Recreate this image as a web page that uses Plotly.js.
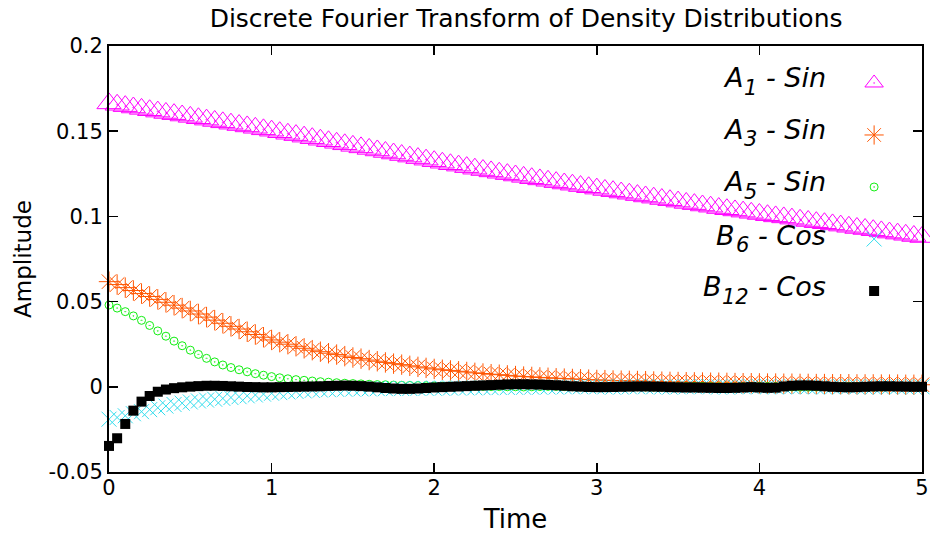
<!DOCTYPE html>
<html>
<head>
<meta charset="utf-8">
<script src="https://cdn.plot.ly/plotly-3.0.1.min.js"></script>
<style>html,body{margin:0;padding:0;background:#fff}#chart{width:930px;height:536px}</style>
</head>
<body>
<div id="chart"></div>
<script>
const time = [
0.00,0.05,0.10,0.15,0.20,0.25,0.30,0.35,0.40,0.45,
0.50,0.55,0.60,0.65,0.70,0.75,0.80,0.85,0.90,0.95,
1.00,1.05,1.10,1.15,1.20,1.25,1.30,1.35,1.40,1.45,
1.50,1.55,1.60,1.65,1.70,1.75,1.80,1.85,1.90,1.95,
2.00,2.05,2.10,2.15,2.20,2.25,2.30,2.35,2.40,2.45,
2.50,2.55,2.60,2.65,2.70,2.75,2.80,2.85,2.90,2.95,
3.00,3.05,3.10,3.15,3.20,3.25,3.30,3.35,3.40,3.45,
3.50,3.55,3.60,3.65,3.70,3.75,3.80,3.85,3.90,3.95,
4.00,4.05,4.10,4.15,4.20,4.25,4.30,4.35,4.40,4.45,
4.50,4.55,4.60,4.65,4.70,4.75,4.80,4.85,4.90,4.95,
5.00];

const a1Sin = [
0.1663,0.1655,0.1647,0.1639,0.1631,0.1623,0.1615,0.1607,0.1600,0.1592,
0.1584,0.1576,0.1568,0.1560,0.1552,0.1544,0.1536,0.1528,0.1520,0.1511,
0.1503,0.1494,0.1485,0.1477,0.1468,0.1459,0.1450,0.1441,0.1432,0.1423,
0.1414,0.1405,0.1396,0.1387,0.1378,0.1369,0.1360,0.1351,0.1342,0.1333,
0.1324,0.1315,0.1306,0.1298,0.1289,0.1280,0.1272,0.1264,0.1256,0.1248,
0.1240,0.1232,0.1224,0.1217,0.1209,0.1201,0.1193,0.1186,0.1178,0.1171,
0.1163,0.1155,0.1148,0.1140,0.1133,0.1125,0.1117,0.1110,0.1102,0.1095,
0.1087,0.1079,0.1072,0.1064,0.1057,0.1049,0.1042,0.1035,0.1028,0.1021,
0.1014,0.1007,0.1000,0.0994,0.0987,0.0980,0.0973,0.0966,0.0960,0.0953,
0.0946,0.0939,0.0932,0.0926,0.0919,0.0912,0.0905,0.0899,0.0892,0.0885,
0.0879];

const a3Sin = [
0.0617,0.0600,0.0582,0.0565,0.0547,0.0530,0.0513,0.0496,0.0479,0.0462,
0.0445,0.0427,0.0409,0.0391,0.0373,0.0355,0.0339,0.0323,0.0307,0.0291,
0.0275,0.0262,0.0250,0.0238,0.0226,0.0215,0.0206,0.0197,0.0189,0.0180,
0.0172,0.0165,0.0157,0.0150,0.0143,0.0136,0.0130,0.0123,0.0117,0.0111,
0.0105,0.0100,0.0096,0.0091,0.0087,0.0082,0.0078,0.0074,0.0071,0.0067,
0.0063,0.0060,0.0058,0.0055,0.0053,0.0050,0.0048,0.0046,0.0044,0.0042,
0.0040,0.0039,0.0037,0.0036,0.0035,0.0034,0.0033,0.0031,0.0030,0.0029,
0.0028,0.0027,0.0026,0.0025,0.0024,0.0024,0.0023,0.0022,0.0021,0.0021,
0.0020,0.0019,0.0019,0.0018,0.0018,0.0017,0.0017,0.0016,0.0016,0.0015,
0.0015,0.0015,0.0014,0.0014,0.0014,0.0013,0.0013,0.0013,0.0012,0.0012,
0.0012];

const a5Sin = [
0.0480,0.0462,0.0441,0.0416,0.0390,0.0360,0.0328,0.0297,0.0268,0.0241,
0.0215,0.0190,0.0167,0.0146,0.0128,0.0113,0.0100,0.0088,0.0077,0.0068,
0.0060,0.0053,0.0047,0.0042,0.0038,0.0034,0.0030,0.0027,0.0024,0.0021,
0.0019,0.0017,0.0015,0.0013,0.0012,0.0010,0.0009,0.0008,0.0007,0.0006,
0.0005,0.0004,0.0004,0.0003,0.0003,0.0002,0.0002,0.0001,0.0001,0.0000,
0.0000,-0.0001,0.0000,0.0001,0.0002,0.0002,0.0001,0.0000,-0.0001,-0.0002,
-0.0002,-0.0001,0.0000,0.0001,0.0001,0.0000,-0.0001,-0.0002,-0.0002,-0.0001,
0.0000,0.0001,0.0002,0.0002,0.0001,0.0000,-0.0001,-0.0001,0.0000,0.0001,
0.0002,0.0002,0.0001,0.0000,-0.0001,-0.0002,-0.0002,-0.0001,0.0000,0.0001,
0.0001,0.0002,0.0001,0.0000,-0.0001,-0.0001,0.0000,0.0001,0.0001,0.0000,
0.0000];

const b6Cos = [
-0.0190,-0.0180,-0.0170,-0.0158,-0.0146,-0.0134,-0.0123,-0.0113,-0.0104,-0.0096,
-0.0089,-0.0083,-0.0078,-0.0073,-0.0068,-0.0063,-0.0058,-0.0053,-0.0048,-0.0043,
-0.0038,-0.0034,-0.0030,-0.0027,-0.0024,-0.0021,-0.0019,-0.0017,-0.0015,-0.0014,
-0.0013,-0.0012,-0.0012,-0.0011,-0.0011,-0.0010,-0.0010,-0.0010,-0.0009,-0.0009,
-0.0008,-0.0008,-0.0007,-0.0007,-0.0006,-0.0006,-0.0005,-0.0005,-0.0004,-0.0004,
-0.0003,-0.0003,-0.0002,-0.0002,-0.0001,-0.0001,0.0000,0.0000,0.0001,0.0001,
0.0000,0.0000,-0.0001,-0.0001,0.0000,0.0001,0.0001,0.0000,-0.0001,-0.0001,
0.0000,0.0000,0.0001,0.0001,0.0000,-0.0001,-0.0001,0.0000,0.0000,0.0001,
0.0001,0.0000,-0.0001,0.0000,0.0001,0.0001,0.0000,0.0000,-0.0001,0.0000,
0.0001,0.0001,0.0000,-0.0001,0.0000,0.0000,0.0001,0.0000,0.0000,0.0000,
0.0000];

const b12Cos = [
-0.0347,-0.0302,-0.0218,-0.0140,-0.0087,-0.0054,-0.0029,-0.0016,-0.0008,-0.0003,
0.0001,0.0004,0.0006,0.0006,0.0005,0.0003,0.0001,-0.0001,-0.0002,-0.0003,
-0.0003,-0.0002,-0.0001,0.0000,0.0001,0.0002,0.0003,0.0005,0.0006,0.0007,
0.0006,0.0004,0.0001,-0.0003,-0.0007,-0.0010,-0.0012,-0.0012,-0.0010,-0.0007,
-0.0004,-0.0002,0.0000,0.0002,0.0004,0.0006,0.0008,0.0010,0.0012,0.0014,
0.0015,0.0015,0.0014,0.0013,0.0011,0.0009,0.0006,0.0003,0.0001,-0.0001,
-0.0002,-0.0002,-0.0001,0.0000,0.0001,0.0002,0.0002,0.0001,0.0000,-0.0002,
-0.0003,-0.0004,-0.0004,-0.0005,-0.0006,-0.0007,-0.0007,-0.0006,-0.0004,-0.0002,
-0.0004,-0.0006,-0.0005,0.0002,0.0006,0.0008,0.0008,0.0006,0.0003,0.0000,
-0.0002,-0.0003,-0.0002,0.0000,0.0002,0.0003,0.0003,0.0002,0.0001,0.0000,
0.0000];

// legend labels: main letter, subscript, remainder
const labelMain = ["A", "A", "A", "B", "B"];
const labelSub = ["1", "3", "5", "6", "12"];
const labelRest = ["- Sin", "- Sin", "- Sin", "- Cos", "- Cos"];
const seriesColors = ["#ff00ff", "#ff5500", "#11ee11", "#33dded", "#000000"];
const xTickVals = [0, 1, 2, 3, 4, 5];
const xTickText = ["0", "1", "2", "3", "4", "5"];
const yTickVals = [-0.05, 0, 0.05, 0.1, 0.15, 0.2];
const yTickText = ["-0.05", "0", "0.05", "0.1", "0.15", "0.2"];

const FONT = "DejaVu Sans";
const LBL_SIZE = 27, SUB_SIZE = 21;

function mk(y, symbol, size, color, lw) {
  return {
    type: "scatter", mode: "markers", x: time, y: y, name: " ",
    cliponaxis: false, hoverinfo: "skip",
    marker: { symbol: symbol, size: size, color: color,
              line: { color: color, width: lw } }
  };
}

const data = [
  mk(a1Sin, "triangle-up-open-dot", 21, seriesColors[0], 1),
  mk(a3Sin, "asterisk-open", 17, seriesColors[1], 1),
  mk(a5Sin, "circle-open-dot", 8, seriesColors[2], 1),
  mk(b6Cos, "x-thin-open", 15, seriesColors[3], 1),
  mk(b12Cos, "square", 10, seriesColors[4], 0)
];

// text measurement for the legend label pieces
const cv = document.createElement("canvas").getContext("2d");
function tw(s, size) {
  cv.font = "italic " + size + "px '" + FONT + "'";
  return cv.measureText(s).width;
}

const plotL = 109, plotW = 813;
const labelRightPx = 827;
const rowY = [0.926, 0.804, 0.6819, 0.5563, 0.4343];
const annotations = [];
labelMain.forEach((m, i) => {
  const xr = (labelRightPx - plotL) / plotW;
  const wRest = tw(labelRest[i], LBL_SIZE);
  const wSub = tw(labelSub[i], SUB_SIZE);
  const subShift = -(wRest + 9);           // right edge of the subscript
  const mainShift = subShift - wSub - 1;   // right edge of the main letter
  const base = { xref: "paper", yref: "paper", x: xr, xanchor: "right", yanchor: "middle",
                 showarrow: false, borderpad: 0 };
  annotations.push(Object.assign({}, base, {
    y: rowY[i], text: labelRest[i],
    font: { family: FONT, size: LBL_SIZE, color: "#000", style: "italic" } }));
  annotations.push(Object.assign({}, base, {
    y: rowY[i], xshift: subShift, yshift: -10, text: labelSub[i],
    font: { family: FONT, size: SUB_SIZE, color: "#000", style: "italic" } }));
  annotations.push(Object.assign({}, base, {
    y: rowY[i], xshift: mainShift, text: m,
    font: { family: FONT, size: LBL_SIZE, color: "#000", style: "italic" } }));
});

const axisCommon = {
  ticks: "inside", ticklen: 9, tickwidth: 1.5, tickcolor: "#000",
  showline: true, linewidth: 2, linecolor: "#000", mirror: "ticks",
  showgrid: false, zeroline: false, fixedrange: true,
  tickfont: { family: FONT, size: 21, color: "#000" }
};

const layout = {
  width: 930, height: 536,
  margin: { l: plotL, r: 8, t: 46, b: 64 },
  paper_bgcolor: "#fff", plot_bgcolor: "#fff",
  title: {
    text: "Discrete Fourier Transform of Density Distributions",
    font: { family: FONT, size: 25, color: "#000" },
    x: 0.513, xref: "paper", xanchor: "center",
    y: 0.966, yref: "container", yanchor: "middle"
  },
  xaxis: Object.assign({}, axisCommon, {
    range: [0, 5], tickvals: xTickVals, ticktext: xTickText,
    ticklabelstandoff: -4,
    title: { text: "Time", font: { family: FONT, size: 26, color: "#000" }, standoff: 11 }
  }),
  yaxis: Object.assign({}, axisCommon, {
    range: [-0.05, 0.2], tickvals: yTickVals, ticktext: yTickText,
    title: { text: "Amplitude", font: { family: FONT, size: 23, color: "#000" }, standoff: 10 }
  }),
  showlegend: true,
  legend: {
    x: 0.9165, xanchor: "left", y: 0.986, yanchor: "top",
    bgcolor: "rgba(0,0,0,0)", borderwidth: 0,
    font: { family: FONT, size: 37.7, color: "#000" },
    itemwidth: 30, itemsizing: "trace", tracegroupgap: 0
  },
  annotations: annotations
};

Plotly.newPlot("chart", data, layout, { displayModeBar: false, staticPlot: true });
</script>
</body>
</html>
